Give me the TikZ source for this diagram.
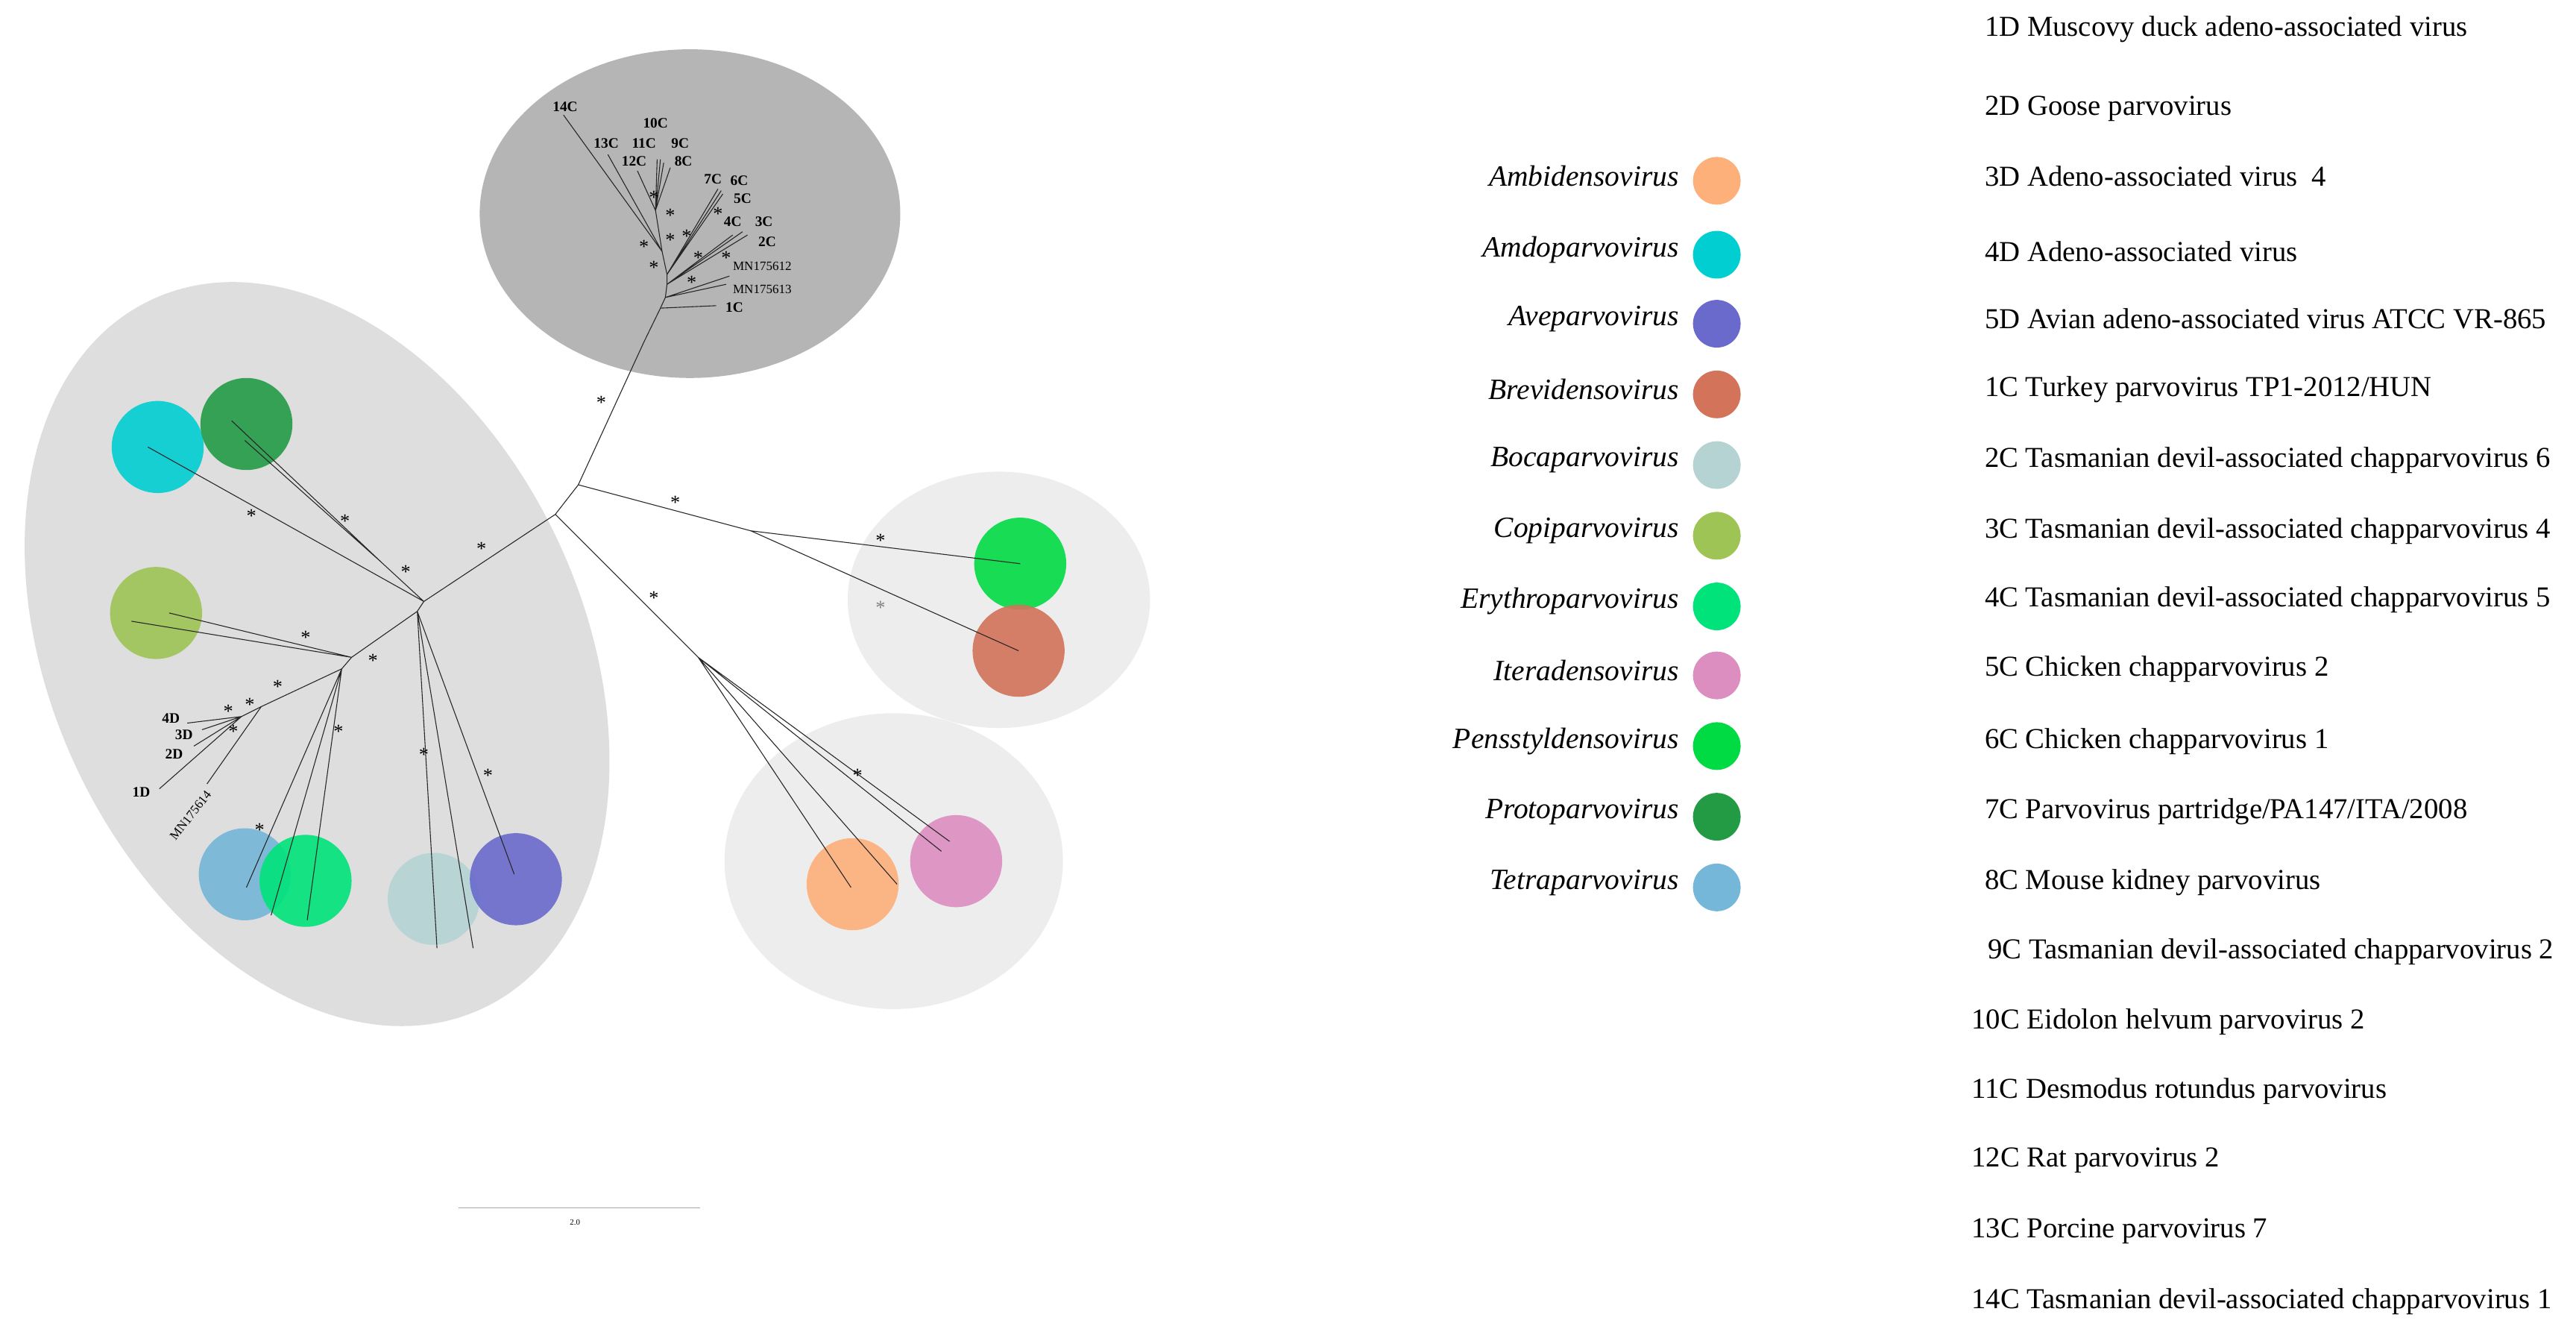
\documentclass[tikz,border=0pt]{standalone}
\usepackage{fontspec}
\setmainfont{Liberation Serif}
\begin{document}
\begin{tikzpicture}[x=0.05cm,y=-0.05cm,
  br/.style={draw=black!85,line width=0.7pt},
  st/.style={inner sep=0pt,font=\fontsize{17}{17}\selectfont},
  lb/.style={inner sep=0pt,font=\fontsize{12.5}{12.5}\selectfont\bfseries},
  blob/.style={circle,minimum size=2.8cm,inner sep=0pt,opacity=0.9},
  leg/.style={anchor=east,inner sep=0pt,font=\fontsize{25.5}{25.5}\selectfont\itshape},
  legdot/.style={circle,minimum size=1.45cm,inner sep=0pt},
  item/.style={anchor=west,inner sep=0pt,font=\fontsize{25}{25}\selectfont}]
\definecolor{cAmbi}{HTML}{FDB07A}
\definecolor{cAmdo}{HTML}{00CED1}
\definecolor{cAve}{HTML}{6A6ACD}
\definecolor{cBrev}{HTML}{D2735A}
\definecolor{cBoca}{HTML}{B5D3D3}
\definecolor{cCopi}{HTML}{9DC455}
\definecolor{cEry}{HTML}{00E37A}
\definecolor{cItera}{HTML}{DD8EC0}
\definecolor{cPens}{HTML}{00DB44}
\definecolor{cProto}{HTML}{239B45}
\definecolor{cTetra}{HTML}{74B7D8}
\useasboundingbox (0,0) rectangle (1568,814);
\fill[white] (0,0) rectangle (1568,814);
% clade backgrounds
\fill[black!29] (420,130) ellipse [x radius=128,y radius=100];
\fill[black!13,rotate around={25:(193,398)}] (193,398) ellipse [x radius=162,y radius=238];
\fill[black!7] (608,365) ellipse [x radius=92,y radius=78];
\fill[black!7] (544,524) ellipse [x radius=103,y radius=90];
% coloured clades
\node[blob,fill=cAmdo] (amdo) at (96,272) {};
\node[blob,fill=cProto] (proto) at (150,258) {};
\node[blob,fill=cCopi] (copi) at (95,373) {};
\node[blob,fill=cTetra] (tetra) at (149,532) {};
\node[blob,fill=cEry] (ery) at (186,536) {};
\node[blob,fill=cBoca] (boca) at (264,547) {};
\node[blob,fill=cAve] (ave) at (314,535) {};
\node[blob,fill=cPens] (pens) at (621,343) {};
\node[blob,fill=cBrev] (brev) at (620,396) {};
\node[blob,fill=cAmbi] (ambi) at (519,538) {};
\node[blob,fill=cItera] (itera) at (582,524) {};
% tree nodes
\coordinate (R1) at (352,295); \coordinate (R2) at (338,313);
\coordinate (cb) at (392,208); \coordinate (c1) at (402,187.5);
\coordinate (c2) at (405,181); \coordinate (c3) at (406,173);
\coordinate (c4) at (406,167); \coordinate (c5) at (403,153);
\coordinate (c6) at (399,128);
\coordinate (e1C) at (436,186); \coordinate (eM3) at (442,173); \coordinate (eM2) at (444,168);
\coordinate (e2C) at (455,143); \coordinate (e3C) at (452,141); \coordinate (e4C) at (446,143);
\coordinate (e7C) at (437,115); \coordinate (e6C) at (439,116); \coordinate (e5C) at (440,118);
\coordinate (e14C) at (343,70); \coordinate (e13C) at (370,94); \coordinate (e12C) at (388,104);
\coordinate (e11C) at (400,97); \coordinate (e10C) at (402,97); \coordinate (e9C) at (404,99); \coordinate (e8C) at (408,102);
\draw[br] (R1)--(R2) (R1)--(cb)--(c1)--(c2)--(c3)--(c4)--(c5)--(c6);
\draw[br] (c1)--(e1C) (c2)--(eM3) (c2)--(eM2) (c3)--(e2C) (c3)--(e3C) (c3)--(e4C)
  (c4)--(e7C) (c4)--(e6C) (c4)--(e5C) (c5)--(e14C) (c5)--(e13C)
  (c6)--(e12C) (c6)--(e11C) (c6)--(e10C) (c6)--(e9C) (c6)--(e8C);
% right clades
\coordinate (r1) at (457,323);
\draw[br] (R1)--(r1)--(pens.center) (r1)--(brev.center);
\coordinate (b1) at (425,400);
\draw[br] (R2)--(b1)--(518,540) (b1)--(546,538) (b1)--(573,518) (b1)--(578,512);
% left clade
\coordinate (L1) at (258,366); \coordinate (P1) at (232,342);
\coordinate (L2) at (254,372); \coordinate (L3) at (214,400); \coordinate (L4) at (208,407);
\coordinate (Dn) at (159,430); \coordinate (Dd) at (147,436);
\draw[br] (R2)--(L1)--(L2)--(L3)--(L4)--(Dn)--(Dd);
\draw[br] (L1)--(P1)--(141,256) (P1)--(149,268) (L1)--(90,272);
\draw[br] (L2)--(266,577) (L2)--(288,577) (L2)--(313,532);
\draw[br] (L3)--(80,378) (L3)--(103,373);
\draw[br] (L4)--(150,540) (L4)--(165,557) (L4)--(187,560);
\coordinate (eMN4) at (126,477);
\draw[br] (Dn)--(eMN4);
\draw[br] (Dd)--(114,440) (Dd)--(123,444) (Dd)--(118,454) (Dd)--(97,480);
% leaf labels
\node[lb] (l14C) at (344,65) {14C};
\node[lb] (l10C) at (399,75) {10C};
\node[lb] (l13C) at (369,87) {13C};
\node[lb] (l11C) at (392,87) {11C};
\node[lb] (l9C) at (414,87) {9C};
\node[lb] (l12C) at (386,98) {12C};
\node[lb] (l8C) at (416,98) {8C};
\node[lb] (l7C) at (434,109) {7C};
\node[lb] (l6C) at (450,110) {6C};
\node[lb] (l5C) at (452,121) {5C};
\node[lb] (l4C) at (446,135) {4C};
\node[lb] (l3C) at (465,135) {3C};
\node[lb] (l2C) at (467,147) {2C};
\node[inner sep=0pt,font=\fontsize{11}{11}\selectfont,anchor=west] (lM2) at (446,162) {MN175612};
\node[inner sep=0pt,font=\fontsize{11}{11}\selectfont,anchor=west] (lM3) at (446,176) {MN175613};
\node[lb] (l1C) at (447,187) {1C};
\node[lb] (l4D) at (104,437) {4D};
\node[lb] (l3D) at (112,447) {3D};
\node[lb] (l2D) at (106,459) {2D};
\node[lb] (l1D) at (86,482) {1D};
\node[inner sep=0pt,font=\fontsize{11}{11}\selectfont,rotate=52,anchor=east] (lM4) at (127,482) {MN175614};
% support stars
\foreach \p in {(398,120),(408,131),(408,146),(418,144),(392,150),(398,163),(437,130),(425,157),(442,157),(421,172),
  (366,245),(411,306),(536,329),(398,364),(522,472),(293,334),(247,348),(210,317),(153,314),
  (186,388),(227,402),(169,418),(152,429),(139,433),(142,445),(206,445),(158,505),(258,459),(297,472)}
  \node[st] at \p {*};
\node[st,text=black!50] at (536,370) {*};
% scale bar
\coordinate (sb1) at (279,735); \coordinate (sb2) at (426,735);
\draw[black!35,line width=0.8pt] (sb1)--(sb2);
\node[inner sep=0pt,font=\fontsize{7}{7}\selectfont] (sbl) at (350,744) {2.0};
% legend
\foreach \n/\c/\y in {Ambidensovirus/cAmbi/107,Amdoparvovirus/cAmdo/152,Aveparvovirus/cAve/194,
  Brevidensovirus/cBrev/237,Bocaparvovirus/cBoca/280,Copiparvovirus/cCopi/323,
  Erythroparvovirus/cEry/366,Iteradensovirus/cItera/408,Pensstyldensovirus/cPens/451,
  Protoparvovirus/cProto/494,Tetraparvovirus/cTetra/537}{
  \node[leg] (g\n) at (1022,\y) {\n};
  \node[legdot,fill=\c] (d\n) at (1045,\y+3) {};
}
% taxa list
\foreach \t/\x/\y [count=\i] in {{1D Muscovy duck adeno-associated virus}/1208/18,
 {2D Goose parvovirus}/1208/66,
 {3D Adeno-associated virus~~4}/1208/107,
 {4D Adeno-associated virus}/1208/153,
 {5D Avian adeno-associated virus ATCC VR-865}/1208/194,
 {1C Turkey parvovirus TP1-2012/HUN}/1208/237,
 {2C Tasmanian devil-associated chapparvovirus 6}/1208/280,
 {3C Tasmanian devil-associated chapparvovirus 4}/1208/323,
 {4C Tasmanian devil-associated chapparvovirus 5}/1208/365,
 {5C Chicken chapparvovirus 2}/1208/407,
 {6C Chicken chapparvovirus 1}/1208/451,
 {7C Parvovirus partridge/PA147/ITA/2008}/1208/494,
 {8C Mouse kidney parvovirus}/1208/537,
 {9C Tasmanian devil-associated chapparvovirus 2}/1210/579,
 {10C Eidolon helvum parvovirus 2}/1200/622,
 {11C Desmodus rotundus parvovirus}/1200/664,
 {12C Rat parvovirus 2}/1200/706,
 {13C Porcine parvovirus 7}/1200/749,
 {14C Tasmanian devil-associated chapparvovirus 1}/1200/792}
  \node[item] (t\i) at (\x,\y) {\t};
\end{tikzpicture}
\end{document}
